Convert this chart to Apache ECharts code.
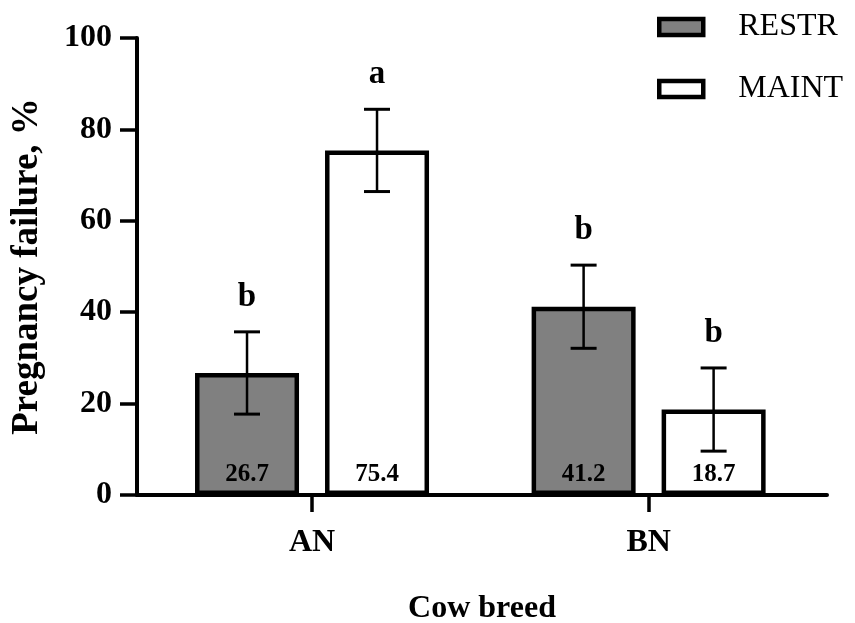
<!DOCTYPE html>
<html>
<head>
<meta charset="utf-8">
<script src="https://cdn.jsdelivr.net/npm/echarts@6/dist/echarts.min.js"></script>
<style>
  html, body { margin: 0; padding: 0; background: #fff; }
  #chart { width: 855px; height: 623px; }
</style>
</head>
<body>
<div id="chart"></div>
<script>
// Pregnancy failure by cow breed and feeding level
const categories = ['AN', 'BN'];
const seriesNames = ['RESTR', 'MAINT'];
const restrValues = [26.7, 41.2];
const maintValues = [75.4, 18.7];
const restrErrors = [9.0, 9.1];
const maintErrors = [9.0, 9.1];
const restrLetters = ['b', 'b'];
const maintLetters = ['a', 'b'];
const yTicks = [0, 20, 40, 60, 80, 100];

const SERIF = "'Liberation Serif', 'Times New Roman', serif";
const BAR_W = 104;
const GAP_PX = 26;
const HALF_STEP = (BAR_W + GAP_PX) / 2;

function pairs(vals) { return vals.map((v, i) => [i, v]); }
function errData(vals, errs) { return vals.map((v, i) => [i, v, errs[i]]); }

function errorRenderer(offset, letters) {
  return function (params, api) {
    const x = api.value(0), m = api.value(1), e = api.value(2);
    const top = api.coord([x, m + e]);
    const bot = api.coord([x, m - e]);
    const cx = top[0] + offset;
    const cap = 13;
    return {
      type: 'group',
      children: [
        { type: 'line', shape: { x1: cx, y1: top[1], x2: cx, y2: bot[1] }, style: { stroke: '#000', lineWidth: 2.5 } },
        { type: 'line', shape: { x1: cx - cap, y1: top[1], x2: cx + cap, y2: top[1] }, style: { stroke: '#000', lineWidth: 3 } },
        { type: 'line', shape: { x1: cx - cap, y1: bot[1], x2: cx + cap, y2: bot[1] }, style: { stroke: '#000', lineWidth: 3 } },
        { type: 'text', x: cx, y: top[1] - 18,
          style: { text: letters[params.dataIndex], fill: '#000', font: 'bold 33px ' + SERIF,
                   textAlign: 'center', textVerticalAlign: 'bottom' } }
      ]
    };
  };
}

const barLabel = {
  show: true,
  position: 'insideBottom',
  distance: 8,
  formatter: p => p.value[1].toFixed(1),
  color: '#000',
  fontFamily: SERIF,
  fontWeight: 'bold',
  fontSize: 25
};

const chart = echarts.init(document.getElementById('chart'), null, { renderer: 'canvas' });
chart.setOption({
  animation: false,
  backgroundColor: '#fff',
  grid: { left: 137, right: 28, top: 38, bottom: 128, containLabel: false, outerBoundsMode: 'none' },
  legend: {
    data: seriesNames,
    orient: 'vertical',
    left: 657,
    top: 10,
    padding: 0,
    itemWidth: 44,
    itemHeight: 16,
    itemGap: 28,
    icon: 'rect',
    itemStyle: { borderWidth: 4.5, borderColor: '#000' },
    textStyle: { fontFamily: SERIF, fontSize: 32, color: '#000', padding: [0, 0, 0, 30], lineHeight: 34 }
  },
  xAxis: {
    type: 'value',
    min: -0.52,
    max: 1.53,
    name: 'Cow breed',
    nameLocation: 'middle',
    nameGap: 98,
    nameTextStyle: { fontFamily: SERIF, fontWeight: 'bold', fontSize: 32, color: '#000' },
    splitLine: { show: false },
    axisLine: { show: true, onZero: false, lineStyle: { color: '#000', width: 4 } },
    axisTick: { show: true, customValues: [0, 1], length: 17, lineStyle: { color: '#000', width: 3.5 } },
    axisLabel: {
      customValues: [0, 1],
      formatter: v => categories[Math.round(v)],
      margin: 32,
      fontFamily: SERIF, fontWeight: 'bold', fontSize: 32, color: '#000'
    }
  },
  yAxis: {
    type: 'value',
    min: yTicks[0],
    max: yTicks[yTicks.length - 1],
    interval: 20,
    name: 'Pregnancy failure, %',
    nameLocation: 'middle',
    nameGap: 91,
    nameTextStyle: { fontFamily: SERIF, fontWeight: 'bold', fontSize: 37, color: '#000' },
    splitLine: { show: false },
    axisLine: { show: true, onZero: false, lineStyle: { color: '#000', width: 4 } },
    axisTick: { show: true, length: 17, lineStyle: { color: '#000', width: 3.5 } },
    axisLabel: { margin: 25, fontFamily: SERIF, fontWeight: 'bold', fontSize: 32, color: '#000' }
  },
  series: [
    {
      name: seriesNames[0], type: 'bar', data: pairs(restrValues),
      barWidth: BAR_W, barGap: (GAP_PX / BAR_W * 100) + '%',
      itemStyle: { color: '#808080', borderColor: '#000', borderWidth: 4.5 },
      label: barLabel
    },
    {
      name: seriesNames[1], type: 'bar', data: pairs(maintValues),
      barWidth: BAR_W, barGap: (GAP_PX / BAR_W * 100) + '%',
      itemStyle: { color: '#ffffff', borderColor: '#000', borderWidth: 4.5 },
      label: barLabel
    },
    {
      type: 'custom', data: errData(restrValues, restrErrors), z: 5,
      renderItem: errorRenderer(-HALF_STEP, restrLetters)
    },
    {
      type: 'custom', data: errData(maintValues, maintErrors), z: 5,
      renderItem: errorRenderer(HALF_STEP, maintLetters)
    }
  ]
});
</script>
</body>
</html>
